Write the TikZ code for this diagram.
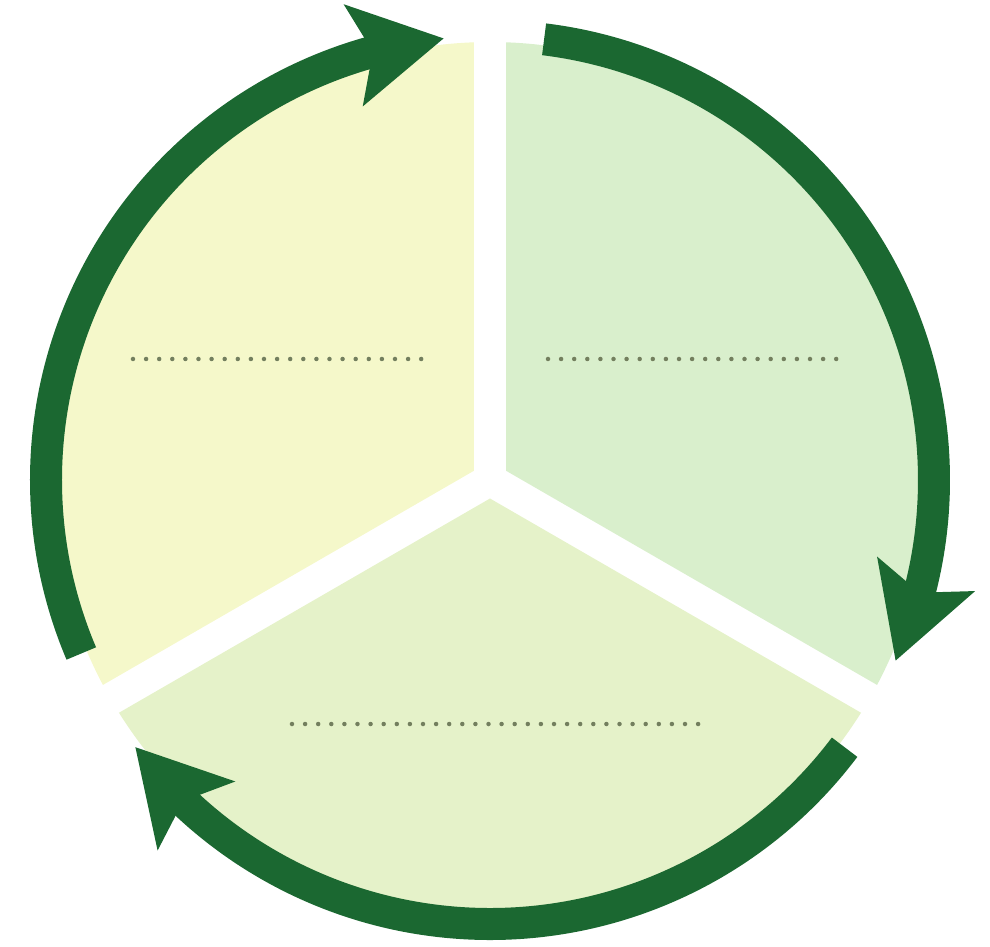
\documentclass[tikz,border=0pt]{standalone}
\usetikzlibrary{arrows.meta,bending}

\definecolor{leafdark}{HTML}{1B6831}
\definecolor{paleyellow}{HTML}{F5F8CA}
\definecolor{palegreen}{HTML}{D9EFCC}
\definecolor{palelime}{HTML}{E5F2C9}
\definecolor{dotgrey}{HTML}{737F5E}

\begin{document}
\begin{tikzpicture}[x=1pt,y=1pt,
  cyclearrow/.style={draw=leafdark,line width=32pt,
    -{Stealth[length=92pt,width=104pt,inset=20pt,line width=0pt]}},
  dotline/.style={draw=dotgrey,line width=4.5pt,line cap=round,
    dash pattern=on 0pt off 13.1pt}]
\useasboundingbox (-490,-467) rectangle (500,480);

% three sectors, gaps of 32pt along 90, 210 and 330 degrees
\fill[paleyellow] (150:18.5) -- (92.1:438) arc[start angle=92.1,end angle=207.9,radius=438] -- cycle;
\fill[palegreen] (30:18.5) -- (-27.9:438) arc[start angle=-27.9,end angle=87.9,radius=438] -- cycle;
\fill[palelime] (270:18.5) -- (212.1:438) arc[start angle=212.1,end angle=327.9,radius=438] -- cycle;

% placeholder lines
\coordinate (leftA) at (-357,121);
\coordinate (leftB) at (-66,121);
\coordinate (rightA) at (58,121);
\coordinate (rightB) at (350,121);
\coordinate (bottomA) at (-198,-244);
\coordinate (bottomB) at (212,-244);
\draw[dotline] (leftA) -- (leftB);
\draw[dotline] (rightA) -- (rightB);
\draw[dotline] (bottomA) -- (bottomB);

% arrows round the cycle
\draw[cyclearrow] (203:444) arc[start angle=203,end angle=96,radius=444];
\draw[cyclearrow] (83:444) arc[start angle=83,end angle=-24,radius=444];
\draw[cyclearrow] (-37:444) arc[start angle=-37,end angle=-143,radius=444];
\end{tikzpicture}
\end{document}
